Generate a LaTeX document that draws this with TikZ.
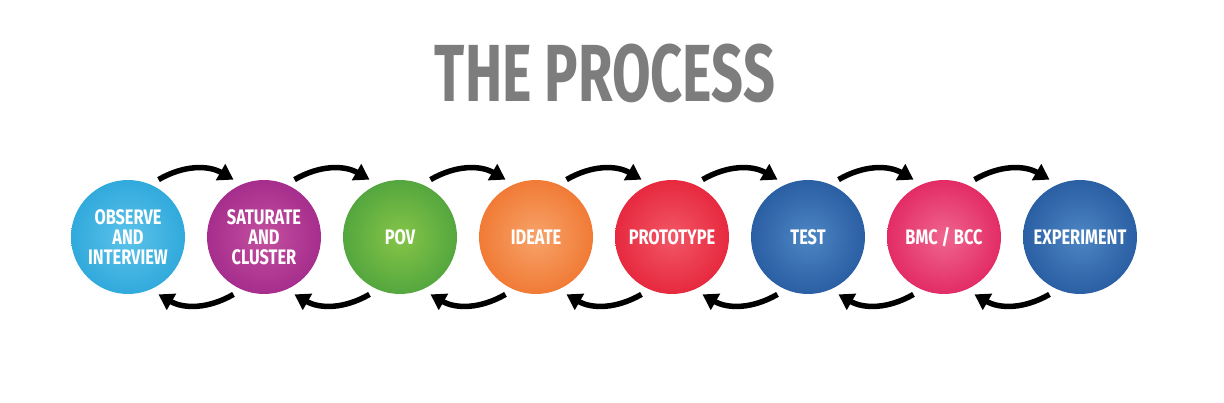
\documentclass[tikz,border=0pt]{standalone}
\usepackage{fontspec}
\usetikzlibrary{positioning,arrows.meta}
\newfontfamily\condfont{Fira Sans}[FakeStretch=0.78]
\newfontfamily\headfont{Fira Sans}[FakeStretch=0.69]

\definecolor{titlegray}{HTML}{7D7D7D}
\definecolor{obsout}{HTML}{1F9FD6}\definecolor{obsin}{HTML}{5CC3EA}
\definecolor{satout}{HTML}{9A1F85}\definecolor{satin}{HTML}{C3509F}
\definecolor{povout}{HTML}{3F9A3A}\definecolor{povin}{HTML}{86C548}
\definecolor{ideout}{HTML}{EE6A20}\definecolor{idein}{HTML}{F7A36A}
\definecolor{proout}{HTML}{E2162F}\definecolor{proin}{HTML}{F25766}
\definecolor{tstout}{HTML}{1C4F96}\definecolor{tstin}{HTML}{4D86C4}
\definecolor{bmcout}{HTML}{DE1455}\definecolor{bmcin}{HTML}{EF6590}

\pgfdeclareradialshading[ballin,ballout]{bubbleshade}{\pgfpoint{0bp}{0bp}}%
 {color(0bp)=(ballin); color(30bp)=(ballout!85!ballin); color(50bp)=(ballout)}

\tikzset{
 bubble/.style={circle, minimum size=114pt, inner sep=0pt, outer sep=8pt,
  /utils/exec={\colorlet{ballin}{#1in}\colorlet{ballout}{#1out}},
  shading=bubbleshade, text=white, align=center,
  font=\condfont\bfseries\fontsize{21}{20}\selectfont},
 flow/.style={-{Triangle[length=15pt,width=18pt]}, line width=5.5pt, bend left=30}
}

\begin{document}
\begin{tikzpicture}[x=1pt,y=1pt,node distance=136pt,on grid]
 \useasboundingbox (0,0) rectangle (1224,402);
 \node[anchor=base,text=titlegray,font=\headfont\bfseries\fontsize{81}{81}\selectfont] (heading) at (605,300) {THE PROCESS};
 \node[bubble=obs] (obs) at (128,165) {OBSERVE\\AND\\INTERVIEW};
 \node[bubble=sat] (sat) [right=of obs] {SATURATE\\AND\\CLUSTER};
 \node[bubble=pov] (pov) [right=of sat] {POV};
 \node[bubble=ide] (ide) [right=of pov] {IDEATE};
 \node[bubble=pro] (pro) [right=of ide] {PROTOTYPE};
 \node[bubble=tst] (tst) [right=of pro] {TEST};
 \node[bubble=bmc] (bmc) [right=of tst] {BMC / BCC};
 \node[bubble=tst] (exper) [right=of bmc] {EXPERIMENT};
 \path[flow]
 (obs.62) edge (sat.118)
 (sat.-118) edge (obs.-62)
 (sat.62) edge (pov.118)
 (pov.-118) edge (sat.-62)
 (pov.62) edge (ide.118)
 (ide.-118) edge (pov.-62)
 (ide.62) edge (pro.118)
 (pro.-118) edge (ide.-62)
 (pro.62) edge (tst.118)
 (tst.-118) edge (pro.-62)
 (tst.62) edge (bmc.118)
 (bmc.-118) edge (tst.-62)
 (bmc.62) edge (exper.118)
 (exper.-118) edge (bmc.-62);
\end{tikzpicture}
\end{document}
